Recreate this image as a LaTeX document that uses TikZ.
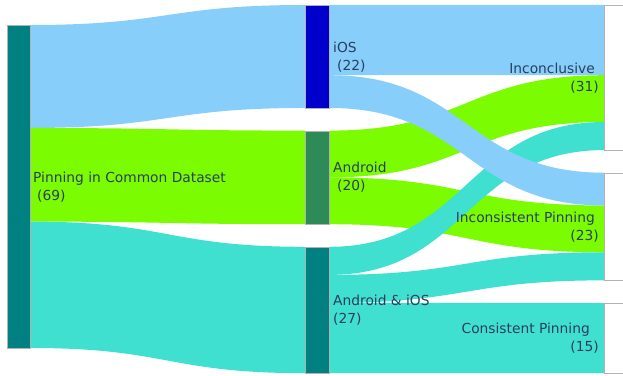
\documentclass[tikz,border=0pt]{standalone}
\usepackage{fontspec}
\setmainfont{DejaVu Sans}
\usetikzlibrary{calc,backgrounds}

\definecolor{srcteal}{HTML}{008080}
\definecolor{iosblue}{HTML}{0000CD}
\definecolor{andgreen}{HTML}{2E8B57}
\definecolor{flowblue}{HTML}{87CEFA}
\definecolor{flowgreen}{HTML}{7CFC00}
\definecolor{flowcyan}{HTML}{40E0D0}
\definecolor{lbltext}{HTML}{2A3F5F}

\newcommand{\unitlen}{4.681pt}
% band from #1 (offset #2) to #3 (offset #4), #5 units thick, colour #6
\newcommand{\flow}[6]{%
	\coordinate (fa) at ($(#1.north east)+(0,-#2*\unitlen)$);
	\coordinate (fb) at ($(#3.north west)+(0,-#4*\unitlen)$);
	\coordinate (fc) at ($(fb)+(0,-#5*\unitlen)$);
	\coordinate (fd) at ($(fa)+(0,-#5*\unitlen)$);
	\coordinate (fm) at ($(fa)!0.5!(fb)$);
	\fill[#6] (fa) .. controls (fm |- fa) and (fm |- fb) .. (fb) -- (fc)
		.. controls (fm |- fc) and (fm |- fd) .. (fd) -- cycle;
}

\begin{document}
\begin{tikzpicture}[x=1pt,y=1pt,
		sankeynode/.style={draw=gray!60, line width=0.5pt, inner sep=0pt, anchor=north west, minimum width=24pt},
		lbl/.style={text=lbltext, inner sep=0pt, font=\fontsize{13.8}{18}\selectfont}]
	\useasboundingbox (0,0) rectangle (623,375);
	\clip (0,0) rectangle (623,375);

	\node[sankeynode, fill=srcteal, minimum width=23pt, minimum height=69*\unitlen] (src) at (7,350) {};
	\node[sankeynode, fill=iosblue, minimum height=22*\unitlen] (ios) at (305,370) {};
	\node[sankeynode, fill=andgreen, minimum height=20*\unitlen] (andr) at (305,244.4) {};
	\node[sankeynode, fill=srcteal, minimum height=27*\unitlen] (both) at (305,128.2) {};
	\node[sankeynode, fill=white, minimum height=31*\unitlen] (incl) at (604,370) {};
	\node[sankeynode, fill=white, minimum height=23*\unitlen] (incons) at (604,202.3) {};
	\node[sankeynode, fill=white, minimum height=15*\unitlen] (cons) at (604,72) {};

	\begin{pgfonlayer}{background}
		\flow{src}{0}{ios}{0}{22}{flowblue}
		\flow{src}{22}{andr}{0}{20}{flowgreen}
		\flow{src}{42}{both}{0}{27}{flowcyan}
		\flow{andr}{0}{incl}{15}{10}{flowgreen}
		\flow{andr}{10}{incons}{7}{10}{flowgreen}
		\flow{both}{0}{incl}{25}{6}{flowcyan}
		\flow{both}{6}{incons}{17}{6}{flowcyan}
		\flow{both}{12}{cons}{0}{15}{flowcyan}
		\flow{ios}{0}{incl}{0}{15}{flowblue}
		\flow{ios}{15}{incons}{0}{7}{flowblue}
	\end{pgfonlayer}

	\node[lbl, anchor=west, align=left] (srclbl) at ([xshift=2.5pt]src.east) {Pinning in Common Dataset\\\hspace*{4pt}(69)};
	\node[lbl, anchor=west, align=left] (ioslbl) at ([xshift=3.5pt]ios.east) {iOS\\\hspace*{4pt}(22)};
	\node[lbl, anchor=west, align=left] (andrlbl) at ([xshift=3.5pt]andr.east) {Android\\\hspace*{4pt}(20)};
	\node[lbl, anchor=west, align=left] (bothlbl) at ([xshift=3.5pt]both.east) {Android \& iOS\\(27)};
	\node[lbl, anchor=east, align=right] (incllbl) at ([xshift=-5pt]incl.west) {Inconclusive\kern4pt\\(31)};
	\node[lbl, anchor=east, align=right] (inconslbl) at ([xshift=-5pt]incons.west) {Inconsistent Pinning\kern4pt\\(23)};
	\node[lbl, anchor=east, align=right] (conslbl) at ([xshift=-5pt]cons.west) {Consistent Pinning\kern9pt\\(15)};
\end{tikzpicture}
\end{document}
